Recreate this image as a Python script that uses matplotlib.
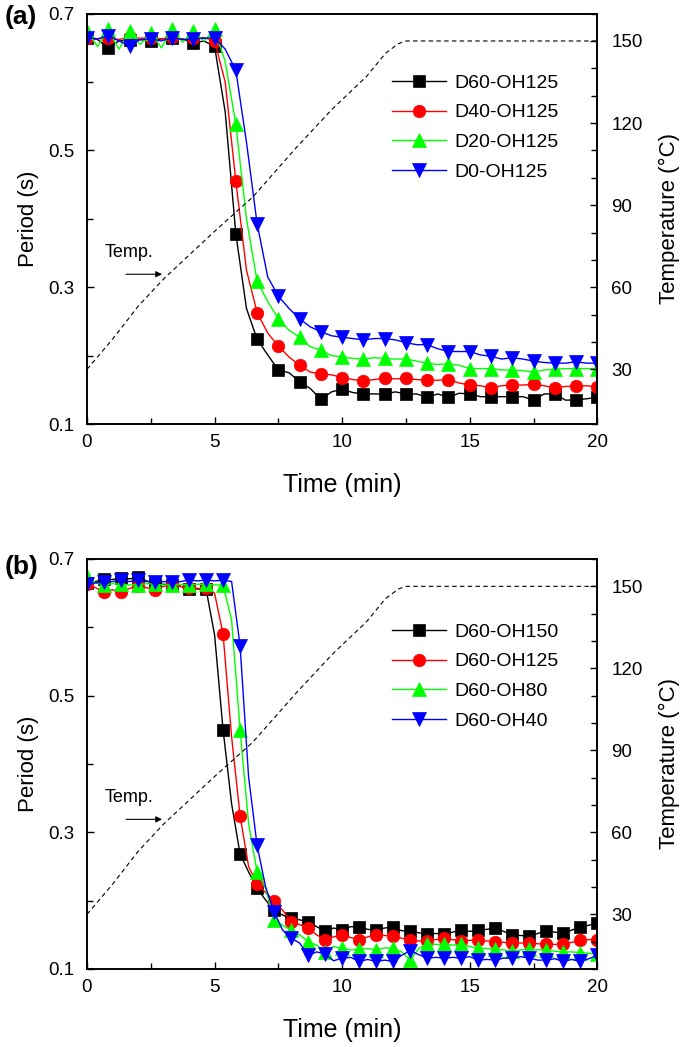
import numpy as np
import matplotlib.pyplot as plt
from matplotlib.ticker import MultipleLocator, FixedLocator

plt.rcParams['font.family'] = ['Liberation Sans', 'DejaVu Sans']

# sampling of the period curves (min): (a) every 25 s, (b) every 20 s
time_a = np.arange(49) * 25 / 60
time_b = np.arange(61) * 20 / 60

labels_a = ['D60-OH125', 'D40-OH125', 'D20-OH125', 'D0-OH125']
d60_a = [0.665, 0.662, 0.650, 0.660, 0.661, 0.662, 0.660, 0.663, 0.664, 0.663, 0.657, 0.660, 0.652,
         0.556, 0.378, 0.269, 0.224, 0.201, 0.179, 0.175, 0.162,
         0.152, 0.136, 0.147, 0.151, 0.146, 0.144, 0.144, 0.144, 0.147, 0.144,
         0.144, 0.139, 0.144, 0.139, 0.145, 0.144, 0.140, 0.140, 0.140, 0.140,
         0.140, 0.135, 0.144, 0.144, 0.135, 0.135, 0.137, 0.139]
d40_a = [0.665, 0.663, 0.665, 0.662, 0.666, 0.664, 0.665, 0.663, 0.666, 0.662, 0.664, 0.665, 0.660,
         0.600, 0.455, 0.325, 0.263, 0.233, 0.214, 0.198, 0.186,
         0.176, 0.173, 0.172, 0.168, 0.165, 0.163, 0.165, 0.167, 0.166, 0.167,
         0.165, 0.164, 0.164, 0.165, 0.160, 0.157, 0.156, 0.153, 0.156, 0.157,
         0.157, 0.158, 0.156, 0.153, 0.155, 0.155, 0.156, 0.154]
d20_a = [0.674, 0.652, 0.677, 0.648, 0.674, 0.655, 0.672, 0.650, 0.677, 0.658, 0.675, 0.660, 0.677,
         0.630, 0.538, 0.400, 0.309, 0.279, 0.254, 0.237, 0.227,
         0.213, 0.208, 0.200, 0.198, 0.196, 0.195, 0.197, 0.196, 0.195, 0.195,
         0.192, 0.189, 0.187, 0.188, 0.186, 0.181, 0.181, 0.181, 0.179, 0.179,
         0.178, 0.176, 0.179, 0.180, 0.181, 0.181, 0.181, 0.181]
d0_a = [0.665, 0.663, 0.668, 0.660, 0.653, 0.662, 0.663, 0.660, 0.665, 0.662, 0.663, 0.664, 0.665,
        0.648, 0.617, 0.512, 0.393, 0.315, 0.287, 0.269, 0.254,
        0.242, 0.235, 0.229, 0.227, 0.225, 0.223, 0.225, 0.225, 0.223, 0.219,
        0.216, 0.216, 0.210, 0.206, 0.206, 0.206, 0.201, 0.199, 0.195, 0.197,
        0.195, 0.192, 0.190, 0.189, 0.189, 0.191, 0.189, 0.189]

labels_b = ['D60-OH150', 'D60-OH125', 'D60-OH80', 'D60-OH40']
oh150_b = [0.665, 0.667, 0.671, 0.670, 0.672, 0.671, 0.673, 0.668, 0.664, 0.663, 0.662, 0.660, 0.656, 0.656, 0.656, 0.589,
           0.450, 0.342, 0.268, 0.242, 0.218, 0.201, 0.186, 0.179, 0.174, 0.172, 0.169, 0.162, 0.155, 0.160, 0.157,
           0.162, 0.161, 0.158, 0.157, 0.160, 0.161, 0.156, 0.156, 0.153, 0.151, 0.152, 0.151, 0.154, 0.157, 0.155,
           0.157, 0.158, 0.160, 0.155, 0.150, 0.149, 0.148, 0.152, 0.156, 0.154, 0.152, 0.157, 0.161, 0.164, 0.168]
oh125_b = [0.664, 0.658, 0.652, 0.655, 0.652, 0.657, 0.660, 0.658, 0.655, 0.660, 0.662, 0.660, 0.658, 0.657, 0.657, 0.650,
           0.590, 0.440, 0.324, 0.250, 0.224, 0.212, 0.200, 0.186, 0.169, 0.165, 0.160, 0.150, 0.143, 0.147, 0.150,
           0.146, 0.143, 0.147, 0.150, 0.149, 0.148, 0.145, 0.142, 0.141, 0.141, 0.143, 0.145, 0.143, 0.141, 0.142,
           0.142, 0.141, 0.140, 0.139, 0.138, 0.138, 0.138, 0.137, 0.136, 0.136, 0.136, 0.139, 0.142, 0.143, 0.143]
oh80_b = [0.675, 0.665, 0.662, 0.664, 0.663, 0.662, 0.662, 0.664, 0.663, 0.662, 0.662, 0.663, 0.662, 0.663, 0.663, 0.662,
          0.662, 0.611, 0.450, 0.313, 0.242, 0.218, 0.172, 0.164, 0.157, 0.150, 0.140, 0.135, 0.125, 0.133, 0.130,
          0.128, 0.129, 0.130, 0.128, 0.131, 0.130, 0.125, 0.113, 0.130, 0.137, 0.136, 0.136, 0.135, 0.136, 0.133,
          0.130, 0.130, 0.129, 0.128, 0.126, 0.128, 0.129, 0.128, 0.128, 0.126, 0.125, 0.125, 0.124, 0.123, 0.122]
oh40_b = [0.664, 0.665, 0.666, 0.667, 0.669, 0.667, 0.669, 0.667, 0.666, 0.667, 0.666, 0.667, 0.669, 0.668, 0.669, 0.668,
          0.669, 0.667, 0.573, 0.381, 0.281, 0.220, 0.184, 0.157, 0.145, 0.138, 0.120, 0.125, 0.122, 0.112, 0.116,
          0.117, 0.111, 0.114, 0.111, 0.113, 0.111, 0.120, 0.127, 0.121, 0.116, 0.117, 0.116, 0.117, 0.116, 0.118,
          0.113, 0.114, 0.113, 0.116, 0.116, 0.118, 0.116, 0.113, 0.113, 0.115, 0.111, 0.114, 0.111, 0.115, 0.120]

# oven temperature programme (same in both panels)
temp_time = [0, 1.0, 2.0, 3.0, 4.95, 6.5, 8.2, 9.6, 10.95, 11.7, 12.2, 12.5, 20]
temp_c = [30, 41, 53, 63, 80, 93, 111, 125, 137, 145.5, 149, 150, 150]

colors = ['black', 'red', '#00ff00', 'blue']
markers = ['s', 'o', '^', 'v']
msizes = [8.5, 9, 10.5, 10.5]


def style_ticks(ax, pad):
    ax.tick_params(which='both', direction='in', labelsize=13.5, width=1.0, pad=pad)
    ax.tick_params(which='major', length=5)
    ax.tick_params(which='minor', length=4)
    for s in ax.spines.values():
        s.set_linewidth(1.2)


def draw_panel(fig, rect, t, series, labels, tag, tag_y, leg_y):
    ax = fig.add_axes(rect)
    for vals, lab, c, m, ms in zip(series, labels, colors, markers, msizes):
        ax.plot(t, vals, color=c, lw=1.0, marker=m, ms=ms, markevery=2,
                mec=c, mew=0.5, label=lab)
    ax.set_xlim(0, 20)
    ax.set_ylim(0.1, 0.7)
    ax.xaxis.set_major_locator(MultipleLocator(5))
    ax.xaxis.set_minor_locator(MultipleLocator(2.5))
    ax.yaxis.set_major_locator(FixedLocator([0.1, 0.3, 0.5, 0.7]))
    ax.yaxis.set_minor_locator(FixedLocator([0.2, 0.4, 0.6]))
    ax.set_yticklabels(['0.1', '0.3', '0.5', '0.7'])
    ax.tick_params(right=False, top=False)
    style_ticks(ax, 9)
    ax.tick_params(axis='x', pad=7)
    ax.set_xlabel('Time (min)', fontsize=18, labelpad=16)
    ax.set_ylabel('Period (s)', fontsize=16, labelpad=7)

    ax.text(0.7, 0.351, 'Temp.', fontsize=13, va='center')
    ax.annotate('', xy=(3.05, 0.319), xytext=(1.42, 0.319),
                arrowprops=dict(arrowstyle='-|>', lw=0.8, color='black', mutation_scale=9))

    ax2 = ax.twinx()
    ax2.plot(temp_time, temp_c, color='black', lw=0.8, ls=(0, (4, 3)))
    ax2.set_ylim(10, 160)
    ax2.yaxis.set_major_locator(MultipleLocator(30))
    ax2.yaxis.set_minor_locator(MultipleLocator(10))
    style_ticks(ax2, 10)
    ax2.set_ylabel('Temperature (\u00b0C)', fontsize=16, labelpad=12)

    handles, labs = ax.get_legend_handles_labels()
    ax2.legend(handles, labs, loc='upper left', bbox_to_anchor=(0.597, leg_y),
               frameon=False, fontsize=14, borderpad=0, borderaxespad=0,
               handlelength=2.8, handletextpad=0.4, labelspacing=0.63, numpoints=1)

    fig.text(0.007, tag_y, tag, fontsize=19, fontweight='bold', va='center')
    return ax


fig = plt.figure(figsize=(6.85, 10.47), dpi=100)
draw_panel(fig, [0.127, 0.595, 0.745, 0.392], time_a, [d60_a, d40_a, d20_a, d0_a],
           labels_a, '(a)', 0.984, 0.853)
draw_panel(fig, [0.127, 0.0745, 0.745, 0.3916], time_b, [oh150_b, oh125_b, oh80_b, oh40_b],
           labels_b, '(b)', 0.4585, 0.844)
fig.savefig('out.png', dpi=100)
